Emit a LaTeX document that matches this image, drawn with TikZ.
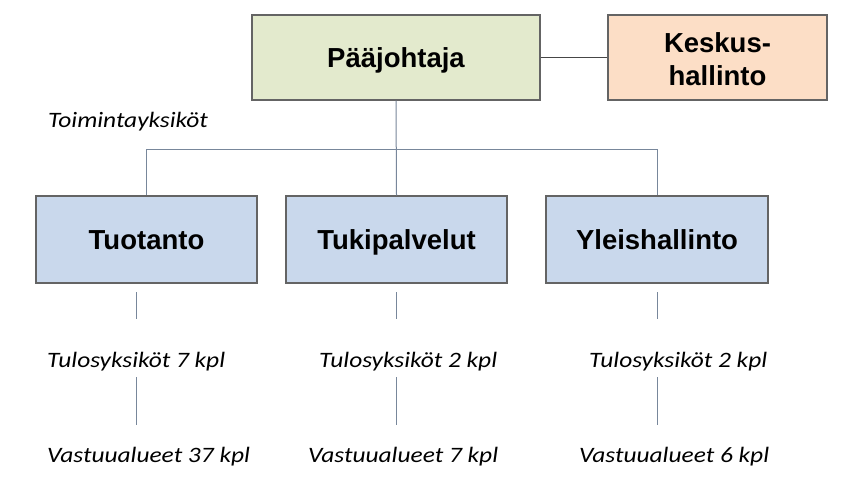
\documentclass[tikz,border=0pt]{standalone}
\usepackage{graphicx}
\usepackage{fontspec}
\setmainfont{Liberation Sans}
\newfontfamily\calib{Carlito}
\newcommand\widetext[1]{\scalebox{1.155}[1]{#1}}
\definecolor{greenfill}{RGB}{227,234,205}
\definecolor{peachfill}{RGB}{252,222,198}
\definecolor{bluefill}{RGB}{201,216,236}
\definecolor{boxline}{RGB}{100,100,100}
\definecolor{treeline}{RGB}{120,135,155}
\definecolor{linkline}{RGB}{70,70,70}
\tikzset{
  orgbox/.style={draw=boxline, line width=1.3pt, inner sep=0pt, align=center,
    font=\fontsize{27.5}{33}\selectfont\bfseries, text height=19.7pt, text depth=0pt},
  boxtext/.style={inner sep=0pt, align=center, font=\fontsize{27.5}{33}\selectfont\bfseries},
  lbl/.style={font=\calib\itshape\fontsize{22}{26}\selectfont, inner sep=0pt, anchor=base west},
  tree/.style={draw=treeline, line width=1pt},
  link/.style={draw=linkline, line width=1.2pt},
}
\begin{document}
\begin{tikzpicture}[x=1pt,y=-1pt]
\useasboundingbox[fill=white] (0,0) rectangle (856,485);
% top boxes
\node[orgbox, fill=greenfill, minimum width=288pt, minimum height=85pt] (pj) at (396,57.5) {Pääjohtaja};
\node[orgbox, fill=peachfill, minimum width=219pt, minimum height=85pt] (ke) at (717.5,57.5) {};
\node[boxtext] (ketext) at (717.5,59.5) {Keskus-\\hallinto};
% unit boxes
\node[orgbox, fill=bluefill, minimum width=221pt, minimum height=87pt] (tu) at (146.5,239.5) {Tuotanto};
\node[orgbox, fill=bluefill, minimum width=221pt, minimum height=87pt] (tp) at (396.5,239.5) {Tukipalvelut};
\node[orgbox, fill=bluefill, minimum width=222pt, minimum height=87pt] (yl) at (657,239.5) {Yleishallinto};
% connectors
\draw[link] (pj.east) -- (ke.west);
\coordinate (bar) at (0,149);
\draw[tree] (pj.south) -- (tp.north);
\draw[tree] (tu.north) -- (tu.north |- bar) -- (yl.north |- bar) -- (yl.north);
% labels
\node[lbl] (toim) at (48,127) {\widetext{Toimintayksiköt}};
\node[lbl] (tul1) at (47,367) {\widetext{Tulosyksiköt 7 kpl}};
\node[lbl] (tul2) at (319,367) {\widetext{Tulosyksiköt 2 kpl}};
\node[lbl] (tul3) at (589,367) {\widetext{Tulosyksiköt 2 kpl}};
\node[lbl] (vas1) at (47,462) {\widetext{Vastuualueet 37 kpl}};
\node[lbl] (vas2) at (308,462) {\widetext{Vastuualueet 7 kpl}};
\node[lbl] (vas3) at (579,462) {\widetext{Vastuualueet 6 kpl}};
% stubs
\coordinate (a1) at (136,292); \coordinate (a2) at (136,319);
\coordinate (b1) at (396,292); \coordinate (b2) at (396,319);
\coordinate (c1) at (657,292); \coordinate (c2) at (657,319);
\coordinate (d1) at (136,377); \coordinate (d2) at (136,425);
\coordinate (e1) at (396,377); \coordinate (e2) at (396,425);
\coordinate (f1) at (657,377); \coordinate (f2) at (657,425);
\draw[tree] (a1) -- (a2); \draw[tree] (b1) -- (b2); \draw[tree] (c1) -- (c2);
\draw[tree] (d1) -- (d2); \draw[tree] (e1) -- (e2); \draw[tree] (f1) -- (f2);
\end{tikzpicture}
\end{document}
